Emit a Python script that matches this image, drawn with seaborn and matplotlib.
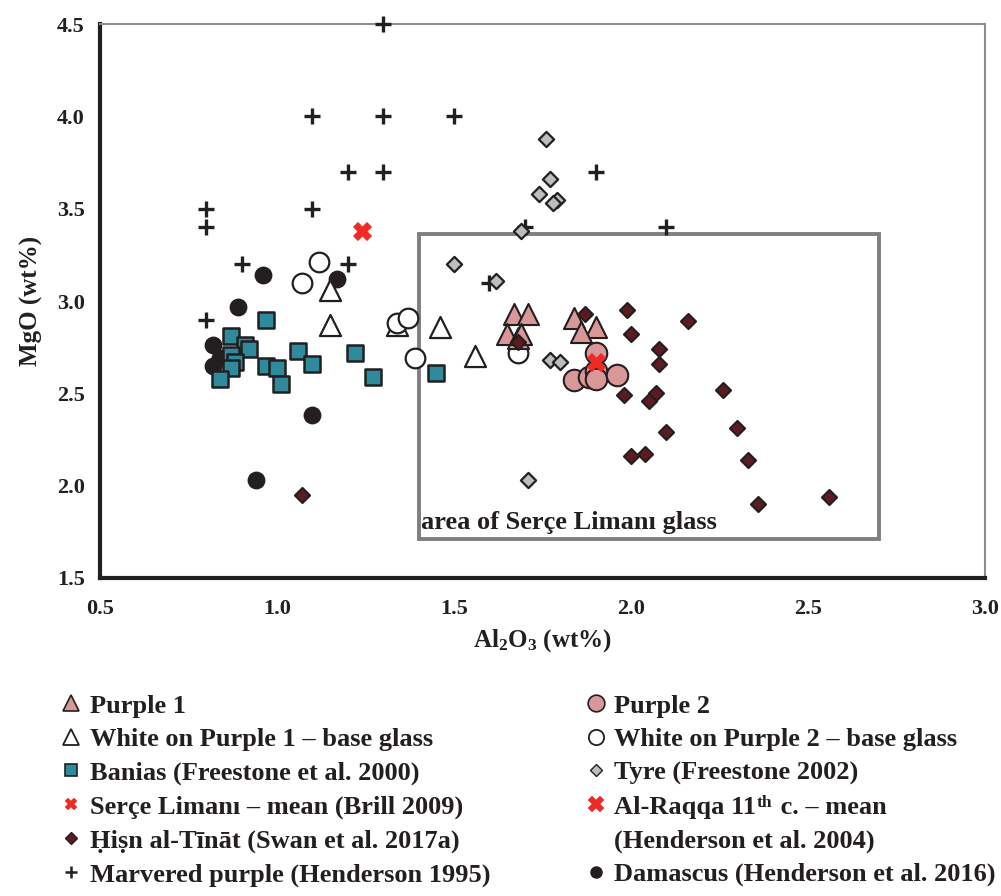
import matplotlib
matplotlib.use("Agg")
import matplotlib.pyplot as plt
import seaborn as sns
import pandas as pd
from matplotlib.lines import Line2D
from matplotlib.patches import Rectangle

# ---------------- data ----------------
purple1_x = [1.67, 1.71, 1.65, 1.68, 1.69, 1.84, 1.90, 1.86]
purple1_y = [2.93, 2.93, 2.82, 2.80, 2.82, 2.91, 2.86, 2.83]

purple2_x = [1.84, 1.88, 1.90, 1.90, 1.90, 1.96]
purple2_y = [2.57, 2.59, 2.62, 2.58, 2.72, 2.60]

white1_x = [1.15, 1.15, 1.34, 1.46, 1.56]
white1_y = [3.06, 2.87, 2.87, 2.86, 2.70]

white2_x = [1.12, 1.07, 1.34, 1.37, 1.39, 1.68]
white2_y = [3.21, 3.10, 2.88, 2.91, 2.69, 2.72]

banias_x = [0.87, 0.97, 0.91, 0.92, 0.87, 0.88, 0.87, 0.84, 0.97, 1.00, 1.01, 1.06, 1.10, 1.22, 1.27, 1.45]
banias_y = [2.81, 2.90, 2.76, 2.74, 2.71, 2.67, 2.64, 2.58, 2.65, 2.64, 2.55, 2.73, 2.66, 2.72, 2.59, 2.61]

tyre_x = [1.76, 1.77, 1.74, 1.79, 1.78, 1.69, 1.50, 1.62, 1.77, 1.80, 1.71]
tyre_y = [3.88, 3.66, 3.58, 3.55, 3.53, 3.38, 3.20, 3.11, 2.68, 2.67, 2.03]

serce_x = [1.24]
serce_y = [3.38]

raqqa_x = [1.90]
raqqa_y = [2.67]

hisn_x = [1.07, 1.87, 1.99, 2.16, 2.00, 2.08, 2.08, 1.68, 1.98, 2.07, 2.05, 2.26, 2.10, 2.30, 2.00, 2.04, 2.33, 2.36, 2.56]
hisn_y = [1.95, 2.93, 2.95, 2.89, 2.82, 2.74, 2.66, 2.78, 2.49, 2.50, 2.46, 2.52, 2.29, 2.31, 2.16, 2.17, 2.14, 1.90, 1.94]

marvered_x = [1.30, 1.10, 1.30, 1.50, 1.20, 1.30, 1.90, 0.80, 1.10, 0.80, 1.70, 2.10, 0.90, 1.20, 1.60, 0.80]
marvered_y = [4.50, 4.00, 4.00, 4.00, 3.70, 3.70, 3.70, 3.50, 3.50, 3.40, 3.40, 3.40, 3.20, 3.20, 3.10, 2.90]

damascus_x = [0.96, 1.17, 0.89, 0.82, 0.84, 0.82, 1.10, 0.94]
damascus_y = [3.14, 3.12, 2.97, 2.76, 2.69, 2.65, 2.38, 2.03]

raqqa_head = "Al-Raqqa 11"
raqqa_sup = "th"
raqqa_tail = " c. \u2013 mean"

labels = {
    "p1": "Purple 1",
    "w1": "White on Purple 1 \u2013 base glass",
    "ban": "Banias (Freestone et al. 2000)",
    "serce": "Ser\u00e7e Liman\u0131 \u2013 mean (Brill 2009)",
    "hisn": "\u1e24i\u1e63n al-T\u012bn\u0101t (Swan et al. 2017a)",
    "marv": "Marvered purple (Henderson 1995)",
    "p2": "Purple 2",
    "w2": "White on Purple 2 \u2013 base glass",
    "tyre": "Tyre (Freestone 2002)",
    "raqqa": raqqa_head,
    "raqqa2": "(Henderson et al. 2004)",
    "dam": "Damascus (Henderson et al. 2016)",
}

# ---------------- style ----------------
sns.set_style("white")
plt.rcParams["font.family"] = ["Liberation Serif", "DejaVu Serif"]
plt.rcParams["font.weight"] = "bold"
plt.rcParams["mathtext.fontset"] = "custom"
plt.rcParams["mathtext.rm"] = "Liberation Serif:bold"
plt.rcParams["mathtext.bf"] = "Liberation Serif:bold"
plt.rcParams["mathtext.default"] = "bf"

PINK = "#D99797"
TEAL = "#2E8B9C"
DARKRED = "#5E1A1F"
GREY = "#BDBDBD"
EDGE = "#231F20"
RED = "#EE2A24"
LEGSIZE = 19

fig = plt.figure(figsize=(10.01, 8.96), dpi=100)
ax = fig.add_axes([0.0999, 0.355, 0.8841, 0.618])

def sc(x, y, **kw):
    sns.scatterplot(x=x, y=y, ax=ax, legend=False, **kw)

sc(marvered_x, marvered_y, marker="+", s=120, color=EDGE, linewidth=2.4, clip_on=False, zorder=3)
sc(damascus_x, damascus_y, marker="o", s=140, color=EDGE, edgecolor=EDGE, linewidth=1, zorder=3)
sc(banias_x, banias_y, marker="s", s=120, color=TEAL, edgecolor=EDGE, linewidth=1.8, zorder=4)
sc(white1_x, white1_y, marker="^", s=230, color="white", edgecolor=EDGE, linewidth=1.6, zorder=4)
sc(white2_x, white2_y, marker="o", s=200, color="white", edgecolor=EDGE, linewidth=1.6, zorder=4)
sc(tyre_x, tyre_y, marker="D", s=60, color=GREY, edgecolor=EDGE, linewidth=1.6, zorder=4)
sc(purple1_x, purple1_y, marker="^", s=230, color=PINK, edgecolor=EDGE, linewidth=1.5, zorder=5)
sc(purple2_x, purple2_y, marker="o", s=240, color=PINK, edgecolor=EDGE, linewidth=1.5, zorder=5)
sc(hisn_x, hisn_y, marker="D", s=58, color=DARKRED, edgecolor=EDGE, linewidth=1.6, zorder=6)
sc(serce_x, serce_y, marker="X", s=170, color=RED, edgecolor=RED, linewidth=0.5, zorder=7)
sc(raqqa_x, raqqa_y, marker="X", s=170, color=RED, edgecolor=RED, linewidth=0.5, zorder=7)

# area box
ax.add_patch(Rectangle((1.40, 1.71), 1.30, 1.655, fill=False, edgecolor="#7F7F7F", linewidth=2.8, zorder=2))
ax.text(1.408, 1.80, "area of Ser\u00e7e Liman\u0131 glass", fontsize=19, fontweight="bold",
        va="center", ha="left", color="#231F20", zorder=8)

ax.set_xlim(0.5, 3.0)
ax.set_ylim(1.5, 4.5)
ax.set_xticks([0.5, 1.0, 1.5, 2.0, 2.5, 3.0])
ax.set_yticks([1.5, 2.0, 2.5, 3.0, 3.5, 4.0, 4.5])
ax.set_xticklabels(["0.5", "1.0", "1.5", "2.0", "2.5", "3.0"])
ax.set_yticklabels(["1.5", "2.0", "2.5", "3.0", "3.5", "4.0", "4.5"])
ax.tick_params(axis="both", direction="inout", length=10, width=2.5, color=EDGE,
               labelsize=16, labelcolor=EDGE, pad=6)
ax.tick_params(axis="x", pad=10)
for s in ["left", "bottom"]:
    ax.spines[s].set_color(EDGE)
    ax.spines[s].set_linewidth(3)
for s in ["top", "right"]:
    ax.spines[s].set_color("#8C8C8C")
    ax.spines[s].set_linewidth(1.5)
ax.set_xlabel("Al$_2$O$_3$ (wt%)", fontsize=18, fontweight="bold", color=EDGE, labelpad=6)
ax.set_ylabel("MgO (wt%)", fontsize=18, fontweight="bold", color=EDGE, labelpad=10)

# legend
def h(marker, ms, fc, ec, mew):
    return Line2D([], [], linestyle="none", marker=marker, markersize=ms,
                  markerfacecolor=fc, markeredgecolor=ec, markeredgewidth=mew)

handles = [
    h("^", 11, PINK, EDGE, 1.2),
    h("^", 11, "white", EDGE, 1.3),
    h("s", 8, TEAL, EDGE, 1.2),
    h("X", 8, RED, RED, 0.3),
    h("D", 6, DARKRED, EDGE, 1.0),
    h("+", 9, EDGE, EDGE, 1.8),
    h("o", 12, PINK, EDGE, 1.2),
    h("o", 11, "white", EDGE, 1.3),
    h("D", 6, GREY, EDGE, 1.0),
    h("X", 11, RED, RED, 0.3),
    Line2D([], [], linestyle="none", marker=None),
    h("o", 8, EDGE, EDGE, 1.0),
]
leg_labels = [labels[k] for k in ["p1", "w1", "ban", "serce", "hisn", "marv",
                                   "p2", "w2", "tyre", "raqqa", "raqqa2", "dam"]]
leg = fig.legend(handles, leg_labels, ncol=2, loc="upper left",
                 bbox_to_anchor=(0.05, 0.237), frameon=False,
                 prop={"size": LEGSIZE, "weight": "bold"},
                 handlelength=0.8, handletextpad=0.3, columnspacing=3.6,
                 labelspacing=0.38, borderaxespad=0)
for t in leg.get_texts():
    t.set_color(EDGE)

# superscript "th" and the rest of the Al-Raqqa label, placed after "Al-Raqqa 11"
fig.canvas.draw()
renderer = fig.canvas.get_renderer()
W, H = fig.bbox.width, fig.bbox.height
raq = [t for t in leg.get_texts() if t.get_text() == raqqa_head][0]
bb = raq.get_window_extent(renderer)
sup = fig.text((bb.x1 + 1) / W, (bb.y1 + 1) / H, raqqa_sup,
               fontsize=12.5, fontweight="bold", color=EDGE, ha="left", va="top")
sbb = sup.get_window_extent(renderer)
fig.text((sbb.x1 + 1) / W, bb.y0 / H, raqqa_tail,
         fontsize=LEGSIZE, fontweight="bold", color=EDGE, ha="left", va="bottom")

fig.savefig("out.png", dpi=100)
